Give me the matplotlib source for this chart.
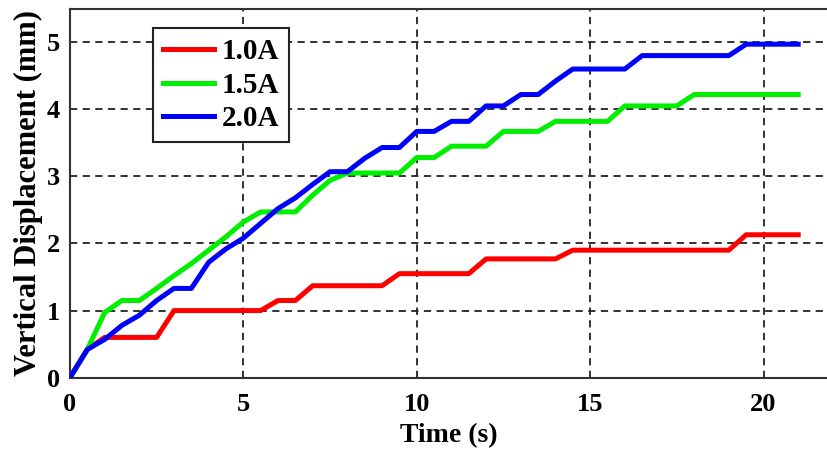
import numpy as np
import matplotlib
matplotlib.use("Agg")
import matplotlib.pyplot as plt

# time samples (s)
time_s = np.arange(0, 21.01, 0.5)

disp_10A = [0, 0.42, 0.6, 0.6, 0.6, 0.6, 1.0, 1.0, 1.0, 1.0, 1.0, 1.0,
            1.15, 1.15, 1.37, 1.37, 1.37, 1.37, 1.37, 1.55, 1.55, 1.55,
            1.55, 1.55, 1.77, 1.77, 1.77, 1.77, 1.77, 1.9, 1.9, 1.9, 1.9,
            1.9, 1.9, 1.9, 1.9, 1.9, 1.9, 2.13, 2.13, 2.13, 2.13]
disp_15A = [0, 0.42, 0.97, 1.15, 1.15, 1.33, 1.52, 1.7, 1.9, 2.1, 2.32,
            2.47, 2.47, 2.47, 2.72, 2.94, 3.05, 3.05, 3.05, 3.05, 3.28,
            3.28, 3.45, 3.45, 3.45, 3.67, 3.67, 3.67, 3.82, 3.82, 3.82,
            3.82, 4.05, 4.05, 4.05, 4.05, 4.22, 4.22, 4.22, 4.22, 4.22,
            4.22, 4.22]
disp_20A = [0, 0.42, 0.57, 0.78, 0.93, 1.15, 1.33, 1.33, 1.72, 1.92, 2.08,
            2.3, 2.52, 2.68, 2.88, 3.07, 3.07, 3.27, 3.43, 3.43, 3.67, 3.67,
            3.82, 3.82, 4.05, 4.05, 4.22, 4.22, 4.42, 4.6, 4.6, 4.6, 4.6,
            4.8, 4.8, 4.8, 4.8, 4.8, 4.8, 4.97, 4.97, 4.97, 4.97]

labels = ["1.0A", "1.5A", "2.0A"]
colors = ["#ff0000", "#00ee00", "#0000ff"]

plt.rcParams["font.family"] = ["Liberation Serif", "DejaVu Serif"]
plt.rcParams["font.weight"] = "bold"

fig = plt.figure(figsize=(8.27, 4.55), dpi=100)
ax = fig.add_axes([0.0846, 0.170, 0.9154, 0.811])

for ys, lab, c in zip([disp_10A, disp_15A, disp_20A], labels, colors):
    ax.plot(time_s, ys, color=c, lw=3.6, label=lab, zorder=3)

ax.set_xlim(0, 21.83)
ax.set_ylim(0, 5.5)
ax.set_xticks([0, 5, 10, 15, 20])
ax.set_yticks([0, 1, 2, 3, 4, 5])
ax.grid(True, color="#222222", linestyle=(0, (4, 3)), linewidth=1.3, zorder=1)

for side in ["left", "bottom", "top"]:
    ax.spines[side].set_linewidth(1.5)
    ax.spines[side].set_color("#333333")
ax.spines["right"].set_visible(False)

ax.tick_params(direction="in", length=0, labelsize=19)
ax.tick_params(axis="x", pad=11)
ax.tick_params(axis="y", pad=7)
for t in ax.get_xticklabels() + ax.get_yticklabels():
    t.set_fontweight("bold")

ax.set_xlabel("Time (s)", fontsize=20, fontweight="bold", labelpad=5)
ax.set_ylabel("Vertical Displacement (mm)", fontsize=22, fontweight="bold", labelpad=3)

leg = ax.legend(loc="upper left", bbox_to_anchor=(0.11, 0.947), borderaxespad=0,
                fontsize=21, handlelength=1.75, handletextpad=0.25,
                labelspacing=0.22, borderpad=0.35, fancybox=False,
                framealpha=1, edgecolor="#222222")
leg.get_frame().set_linewidth(1.5)
for t in leg.get_texts():
    t.set_fontweight("bold")

fig.savefig("out.png", dpi=100)
